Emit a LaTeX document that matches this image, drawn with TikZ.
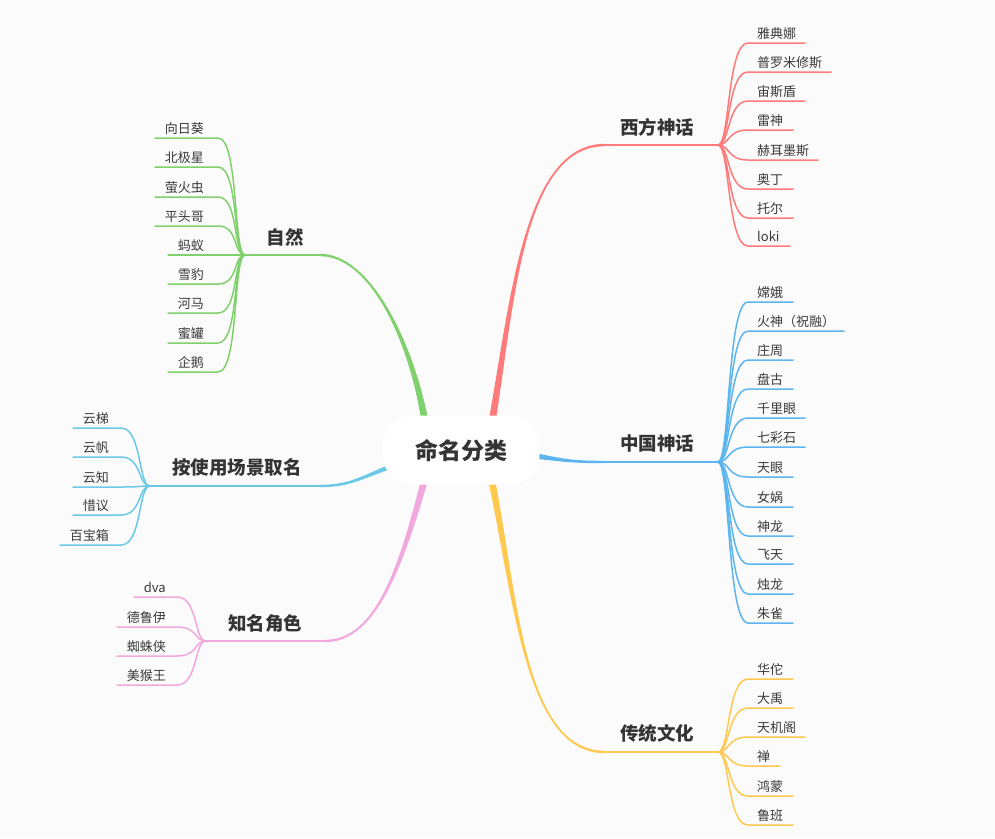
\documentclass[tikz,border=0pt]{standalone}
\usepackage{fontspec}
\setmainfont{Noto Sans CJK SC}
\usetikzlibrary{calc}
\definecolor{bgc}{HTML}{FBFBFB}
\definecolor{txt}{HTML}{3A3A3A}
\definecolor{redc}{HTML}{FF7B7B}
\definecolor{bluec}{HTML}{5DB5EF}
\definecolor{yelc}{HTML}{FFC94F}
\definecolor{grnc}{HTML}{80D16D}
\definecolor{cyac}{HTML}{6BC9E6}
\definecolor{pnkc}{HTML}{F2A7DD}
\newcommand\mytaper[6]{%
  \fill[#1] ($(#2)-#6$) .. controls ($(#3)-0.55*#6$) and ($(#4)+(0,-1.2)$) .. ($(#5)+(0,-1.2)$)
    -- ($(#5)+(0,1.2)$) .. controls ($(#4)+(0,1.2)$) and ($(#3)+0.55*#6$) .. ($(#2)+#6$) -- cycle;}
\begin{document}
\begin{tikzpicture}[x=1pt,y=-1pt,
  leaf/.style={inner sep=0pt, text=txt, font=\fontsize{13}{15}\selectfont},
  mainlabel/.style={inner sep=0pt, text=txt!90!black, font=\bfseries\fontsize{18.5}{22}\selectfont},
  leafline/.style={line width=1.5pt, line cap=round},
  mainline/.style={line width=2.4pt}]
\useasboundingbox (0,0) rectangle (995,838);
\fill[bgc] (0,0) rectangle (995,838);

% ---- main branch coordinates
\coordinate (rRoot) at (493,416); \coordinate (rC1) at (513,295); \coordinate (rC2) at (525,145); \coordinate (rEnd) at (605,145); \coordinate (rHub) at (718,145);
\coordinate (bRoot) at (536,456); \coordinate (bC1) at (562,460); \coordinate (bC2) at (570,462); \coordinate (bEnd) at (605,462); \coordinate (bHub) at (718,462);
\coordinate (yRoot) at (492,482); \coordinate (yC1) at (516,600); \coordinate (yC2) at (525,752); \coordinate (yEnd) at (605,752); \coordinate (yHub) at (718,752);
\coordinate (gRoot) at (424,416); \coordinate (gC1) at (410,340); \coordinate (gC2) at (370,255); \coordinate (gEnd) at (320,255); \coordinate (gHub) at (245,255);
\coordinate (cRoot) at (392,466); \coordinate (cC1) at (360,478); \coordinate (cC2) at (350,486); \coordinate (cEnd) at (320,486); \coordinate (cHub) at (150,486);
\coordinate (pRoot) at (424,482); \coordinate (pC1) at (400,570); \coordinate (pC2) at (375,641); \coordinate (pEnd) at (325,641); \coordinate (pHub) at (206,641);

\mytaper{redc}{rRoot}{rC1}{rC2}{rEnd}{(3.5,0)}
\mytaper{bluec}{bRoot}{bC1}{bC2}{bEnd}{(0,2.8)}
\mytaper{yelc}{yRoot}{yC1}{yC2}{yEnd}{(-3.5,0)}
\mytaper{grnc}{gRoot}{gC1}{gC2}{gEnd}{(-3.5,0)}
\mytaper{cyac}{cRoot}{cC1}{cC2}{cEnd}{(0,2.6)}
\mytaper{pnkc}{pRoot}{pC1}{pC2}{pEnd}{(3.5,0)}

\draw[mainline,redc] (rEnd) -- (rHub);
\draw[mainline,bluec] (bEnd) -- (bHub);
\draw[mainline,yelc] (yEnd) -- (yHub);
\draw[mainline,grnc] (gEnd) -- (gHub);
\draw[mainline,cyac] (cEnd) -- (cHub);
\draw[mainline,pnkc] (pEnd) -- (pHub);

% ---- centre
\node[fill=white, rounded corners=30pt, minimum width=157pt, minimum height=69pt, inner sep=0pt] (root) at (461,450) {};
\node[inner sep=0pt, text=txt!90!black, font=\bfseries\fontsize{23}{27}\selectfont, anchor=base] (rootlabel) at (461,459) {命名分类};

% ---- main labels
\node[mainlabel, anchor=base] (lW) at (657,134) {西方神话};
\node[mainlabel, anchor=base] (lC) at (657,450) {中国神话};
\node[mainlabel, anchor=base] (lT) at (657,740) {传统文化};
\node[mainlabel, anchor=base] (lN) at (285,244) {自然};
\node[mainlabel, anchor=base] (lS) at (237,474) {按使用场景取名};
\node[mainlabel, anchor=base] (lP) at (265,630) {知名角色};

% ---- right leaves
\foreach \t/\y/\e [count=\i] in {雅典娜/43/805, 普罗米修斯/72/831, 宙斯盾/101/805, 雷神/130/793, 赫耳墨斯/160/818, 奥丁/189/793, 托尔/218/793, loki/246/790} {
  \coordinate (rb\i) at (748,\y); \coordinate (re\i) at (\e,\y);
  \node[leaf, anchor=base west] (rl\i) at (757,\y-5) {\t};
  \draw[leafline,redc] (rHub) .. controls +(12,0) and +(-21,0) .. (rb\i) -- (re\i);
}
\foreach \t/\y/\e [count=\i] in {嫦娥/302/793, 火神（祝融）/331/844, 庄周/360/793, 盘古/389/793, 千里眼/418/805, 七彩石/447/805, 天眼/477/793, 女娲/507/793, 神龙/536/793, 飞天/564/793, 烛龙/594/793, 朱雀/623/793} {
  \coordinate (bb\i) at (748,\y); \coordinate (be\i) at (\e,\y);
  \node[leaf, anchor=base west] (bl\i) at (757,\y-5) {\t};
  \draw[leafline,bluec] (bHub) .. controls +(12,0) and +(-21,0) .. (bb\i) -- (be\i);
}
\foreach \t/\y/\e [count=\i] in {华佗/679/793, 大禹/708/793, 天机阁/737/805, 禅/766/780, 鸿蒙/796/793, 鲁班/825/793} {
  \coordinate (yb\i) at (748,\y); \coordinate (ye\i) at (\e,\y);
  \node[leaf, anchor=base west] (yl\i) at (757,\y-5) {\t};
  \draw[leafline,yelc] (yHub) .. controls +(12,0) and +(-21,0) .. (yb\i) -- (ye\i);
}

% ---- left leaves
\foreach \t/\y/\e [count=\i] in {向日葵/138/155, 北极星/167/155, 萤火虫/197/155, 平头哥/226/155, 蚂蚁/255/168, 雪豹/284/168, 河马/313/168, 蜜罐/343/168, 企鹅/372/168} {
  \coordinate (gb\i) at (218,\y); \coordinate (ge\i) at (\e,\y);
  \node[leaf, anchor=base east] (gl\i) at (204,\y-5) {\t};
  \draw[leafline,grnc] (gHub) .. controls +(-12,0) and +(21,0) .. (gb\i) -- (ge\i);
}
\foreach \t/\y/\e [count=\i] in {云梯/428/73, 云帆/457/73, 云知/487/73, 惜议/515/73, 百宝箱/545/60} {
  \coordinate (cb\i) at (121,\y); \coordinate (ce\i) at (\e,\y);
  \node[leaf, anchor=base east] (cl\i) at (109,\y-5) {\t};
  \draw[leafline,cyac] (cHub) .. controls +(-12,0) and +(21,0) .. (cb\i) -- (ce\i);
}
\foreach \t/\y/\e [count=\i] in {dva/597/134, 德鲁伊/627/117, 蜘蛛侠/656/117, 美猴王/685/117} {
  \coordinate (pb\i) at (177,\y); \coordinate (pe\i) at (\e,\y);
  \node[leaf, anchor=base east] (pl\i) at (166,\y-5) {\t};
  \draw[leafline,pnkc] (pHub) .. controls +(-12,0) and +(21,0) .. (pb\i) -- (pe\i);
}
\end{tikzpicture}
\end{document}
